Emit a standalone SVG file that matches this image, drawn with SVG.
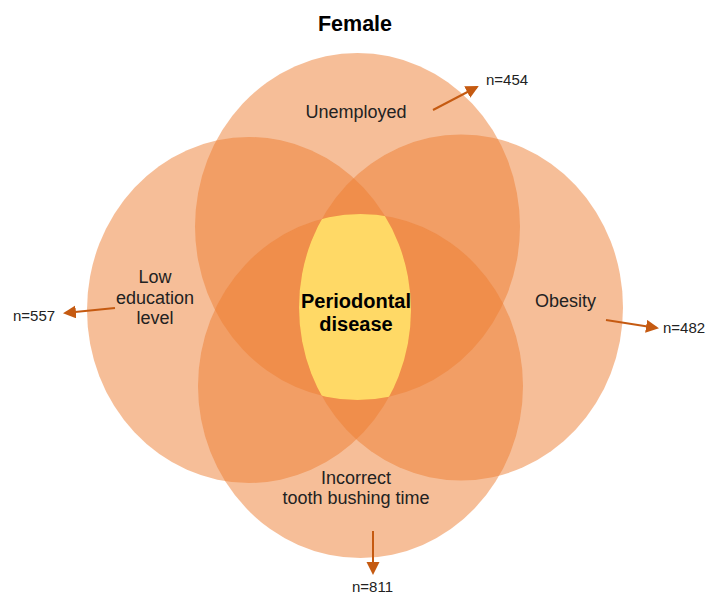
<svg xmlns="http://www.w3.org/2000/svg" width="707" height="595" viewBox="0 0 707 595">
<style>
.set{fill:#ED7D31;fill-opacity:0.5}
.lbl{font-family:"Liberation Sans",Arial,sans-serif;font-size:18px;fill:#222;text-anchor:middle}
.n{font-family:"Liberation Sans",Arial,sans-serif;font-size:15px;fill:#222}
.bold{font-family:"Liberation Sans",Arial,sans-serif;font-weight:bold;fill:#000;text-anchor:middle}
.arr{stroke:#C55A11;stroke-width:2;fill:none;marker-end:url(#ah)}
</style>
<defs>
<marker id="ah" markerUnits="userSpaceOnUse" markerWidth="14" markerHeight="14" refX="11" refY="6.5" orient="auto">
<path d="M0,0 L13,6.5 L0,13 Z" fill="#C55A11"/>
</marker>
<ellipse id="eT" cx="357.5" cy="226.5" rx="162.5" ry="173.5"/>
<ellipse id="eL" cx="249" cy="310" rx="162" ry="173"/>
<ellipse id="eR" cx="461" cy="307.5" rx="162" ry="173"/>
<ellipse id="eB" cx="360.5" cy="386" rx="162.5" ry="172"/>
<clipPath id="cT"><use href="#eT"/></clipPath>
<clipPath id="cB"><use href="#eB"/></clipPath>
<clipPath id="cR"><use href="#eR"/></clipPath>
</defs>
<rect width="707" height="595" fill="#fff"/>
<text class="bold" x="355" y="31" font-size="21.5">Female</text>
<g id="unemployed">
<use href="#eT" class="set"/>
<text class="lbl" x="356" y="118">Unemployed</text>
</g>
<g id="low-education">
<use href="#eL" class="set"/>
<text class="lbl" x="155" y="283">Low</text>
<text class="lbl" x="155" y="303.5">education</text>
<text class="lbl" x="155" y="324">level</text>
</g>
<g id="obesity">
<use href="#eR" class="set"/>
<text class="lbl" x="565.5" y="307">Obesity</text>
</g>
<g id="brushing">
<use href="#eB" class="set"/>
<text class="lbl" x="356" y="484">Incorrect</text>
<text class="lbl" x="356" y="504">tooth bushing time</text>
</g>
<g id="periodontal">
<g clip-path="url(#cT)"><g clip-path="url(#cB)"><g clip-path="url(#cR)">
<use href="#eL" fill="#FFD966"/>
</g></g></g>
<text class="bold" x="356" y="308" font-size="20">Periodontal</text>
<text class="bold" x="356" y="331" font-size="20">disease</text>
</g>
<g id="connectors">
<line class="arr" x1="433" y1="110" x2="477" y2="87"/>
<line class="arr" x1="115" y1="308" x2="65" y2="313"/>
<line class="arr" x1="606" y1="320" x2="657" y2="328"/>
<line class="arr" x1="373" y1="531" x2="373" y2="573"/>
</g>
<g id="counts">
<text class="n" x="486" y="85">n=454</text>
<text class="n" x="13" y="321">n=557</text>
<text class="n" x="663" y="333">n=482</text>
<text class="n" x="352" y="592">n=811</text>
</g>
</svg>
